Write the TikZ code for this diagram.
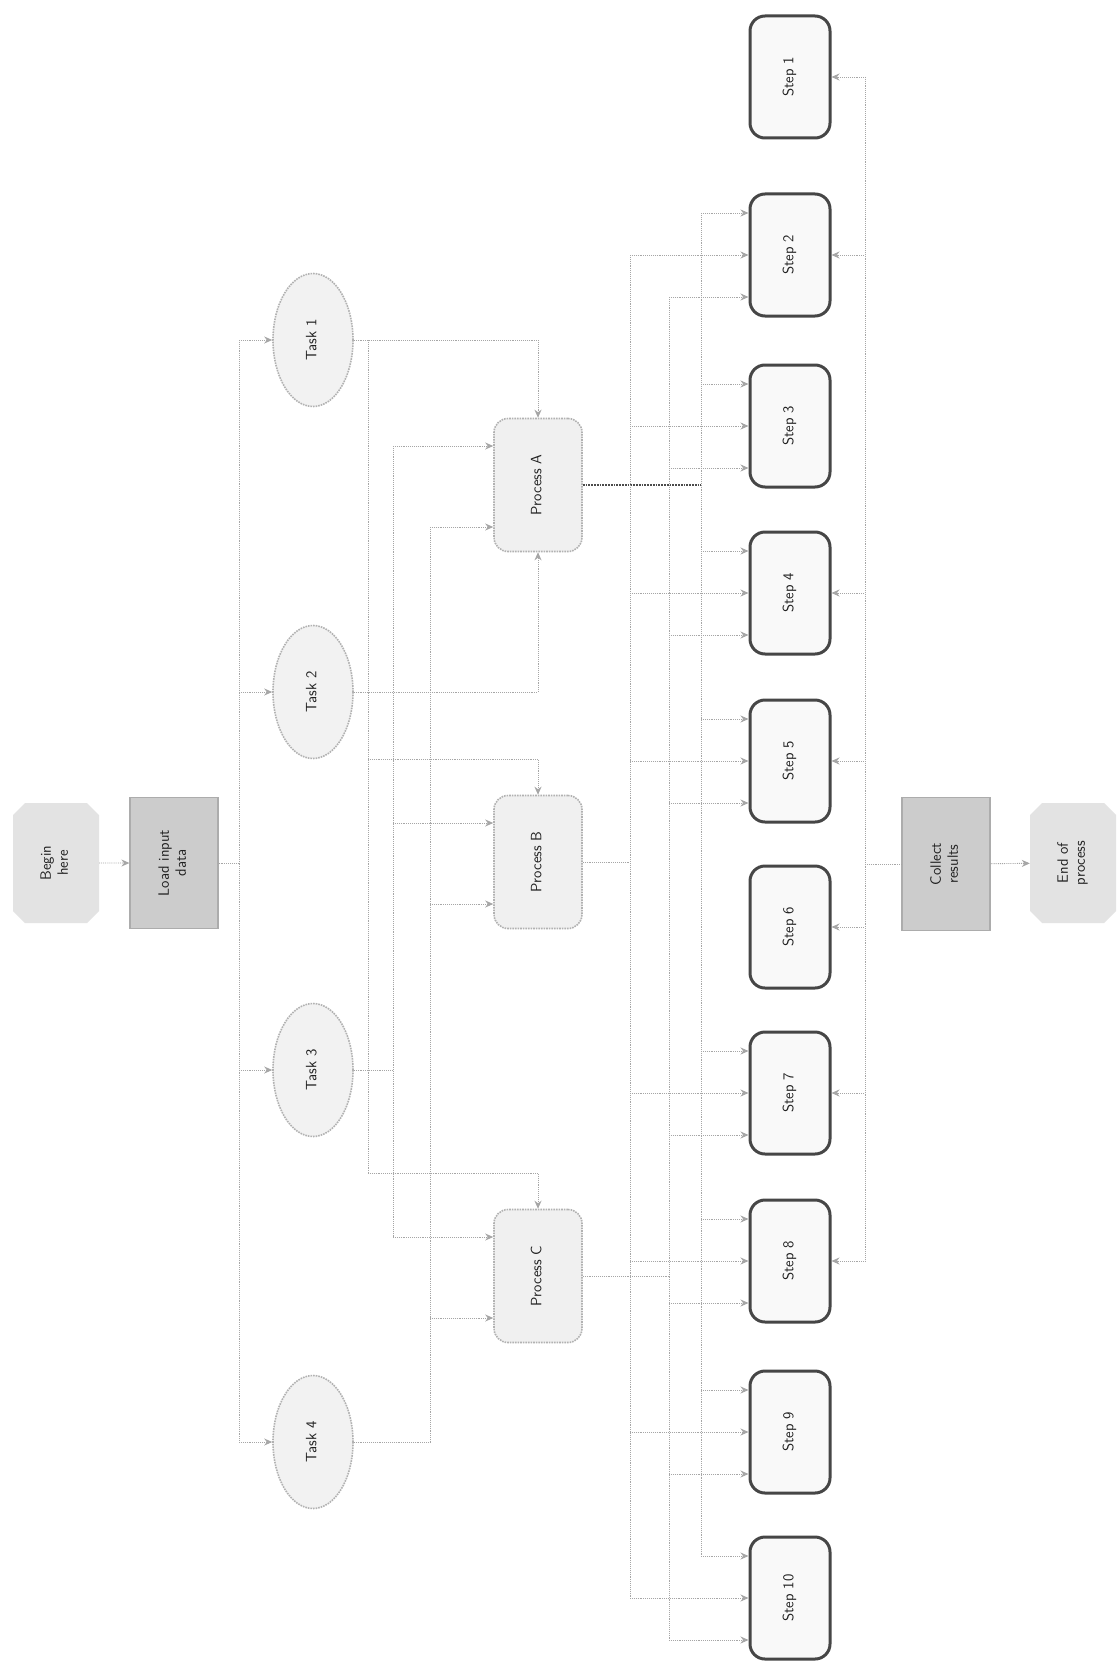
\documentclass[tikz,border=0pt]{standalone}
\usepackage{graphicx}
\usetikzlibrary{shapes.geometric,shapes.misc,arrows.meta}
\begin{document}
\begin{tikzpicture}[x=1pt,y=-1pt,
  conn/.style={draw=gray!70, densely dotted, line width=0.9pt},
  heavy/.style={draw=gray!60!black, densely dotted, line width=1.8pt},
  arr/.style={conn, -{Stealth[length=8pt,width=7pt]}},
  arrin/.style={conn, {Stealth[length=8pt,width=7pt]}-},
  txt/.style={font=\sffamily\fontsize{15}{17}\selectfont, text=gray!25!black, align=center},
  termbox/.style={chamfered rectangle, chamfered rectangle xsep=6pt, chamfered rectangle ysep=6pt, fill=gray!22, draw=none, minimum width=86pt, minimum height=120pt, inner sep=0pt},
  iobox/.style={rectangle, fill=gray!40, draw=gray!65, line width=1.2pt, minimum width=88pt, minimum height=131pt, inner sep=0pt},
  ellbox/.style={ellipse, fill=gray!10, draw=gray!60, line width=1.6pt, densely dotted, minimum width=80pt, minimum height=133pt, inner sep=0pt},
  midbox/.style={rectangle, rounded corners=14pt, fill=gray!12, draw=gray!60, line width=1.6pt, densely dotted, minimum width=88pt, minimum height=133pt, inner sep=0pt},
  stepbox/.style={rectangle, rounded corners=15pt, fill=gray!5, draw=gray!55!black, line width=3pt, minimum width=80pt, minimum height=122pt, inner sep=0pt}
]
\newcommand{\rt}[1]{\rotatebox{90}{\begin{tabular}{@{}c@{}}#1\end{tabular}}}
\path[use as bounding box, fill=white] (0,0) rectangle (1118,1664);

% nodes
\node[termbox, txt] (A) at (56,863) {\rt{Begin\\here}};
\node[iobox, txt] (B) at (174,863) {\rt{Load input\\data}};

\node[ellbox, txt] (e1) at (313,340) {\rt{Task 1}};
\node[ellbox, txt] (e2) at (313,692) {\rt{Task 2}};
\node[ellbox, txt] (e3) at (313,1070) {\rt{Task 3}};
\node[ellbox, txt] (e4) at (313,1442) {\rt{Task 4}};

\node[midbox, txt] (m1) at (538,485) {\rt{Process A}};
\node[midbox, txt] (m2) at (538,862) {\rt{Process B}};
\node[midbox, txt] (m3) at (538,1276) {\rt{Process C}};

\node[stepbox, txt] (r1) at (790,77) {\rt{Step 1}};
\node[stepbox, txt] (r2) at (790,255) {\rt{Step 2}};
\node[stepbox, txt] (r3) at (790,426) {\rt{Step 3}};
\node[stepbox, txt] (r4) at (790,593) {\rt{Step 4}};
\node[stepbox, txt] (r5) at (790,761) {\rt{Step 5}};
\node[stepbox, txt] (r6) at (790,927) {\rt{Step 6}};
\node[stepbox, txt] (r7) at (790,1093) {\rt{Step 7}};
\node[stepbox, txt] (r8) at (790,1261) {\rt{Step 8}};
\node[stepbox, txt] (r9) at (790,1432) {\rt{Step 9}};
\node[stepbox, txt] (r10) at (790,1598) {\rt{Step 10}};

\node[iobox, txt, minimum height=133pt] (C) at (946,864) {\rt{Collect\\results}};
\node[termbox, txt] (D) at (1073,863) {\rt{End of\\process}};

% left part
\draw[arr] (A) -- (B);
\coordinate (busT) at (239,340);
\coordinate (busB) at (239,1442);
\draw[conn] (B.east) -- (B.east -| busT);
\draw[conn] (busT) -- (busB);
\foreach \e in {e1,e2,e3,e4} { \draw[arr] (\e.west -| busT) -- (\e.west); }

% ellipses to middle boxes
\coordinate (v1) at (368,340);
\coordinate (v2) at (393,0);
\coordinate (v3) at (430,0);
\coordinate (k1) at (368,759);
\coordinate (k2) at (368,1173);
\draw[arr] (e1.east) -| (m1.north);
\draw[conn] (v1) -- (k2);
\draw[arr] (k1) -| (m2.north);
\draw[arr] (k2) -| (m3.north);
\draw[arr] (e2.east) -| (m1.south);

\foreach \m in {m1,m2,m3} {
  \coordinate (\m a) at ([yshift=39pt]\m.west);
  \coordinate (\m b) at ([yshift=-42pt]\m.west);
}
\draw[conn] (e3.east) -- (e3.east -| v2);
\draw[conn] (v2 |- m1a) -- (v2 |- m3a);
\draw[conn] (e4.east) -- (e4.east -| v3);
\draw[conn] (v3 |- m1b) -- (v3 |- e4.east);
\foreach \m in {m1,m2,m3} {
  \draw[arr] (v2 |- \m a) -- (\m a);
  \draw[arr] (v3 |- \m b) -- (\m b);
}

% middle boxes to step boxes
\coordinate (w1) at (701,0);
\coordinate (w2) at (630,0);
\coordinate (w3) at (669,0);
\foreach \r in {r2,r3,r4,r5,r7,r8,r9,r10} {
  \coordinate (\r t) at ([yshift=42pt]\r.west);
  \coordinate (\r c) at (\r.west);
  \coordinate (\r b) at ([yshift=-42pt]\r.west);
}
\draw[heavy] (m1.east) -- (m1.east -| w1);
\draw[conn] (w1 |- r2t) -- (w1 |- r10t);
\draw[conn] (m2.east) -- (m2.east -| w2);
\draw[conn] (w2 |- r2c) -- (w2 |- r10c);
\draw[conn] (m3.east) -- (m3.east -| w3);
\draw[conn] (w3 |- r2b) -- (w3 |- r10b);
\foreach \r in {r2,r3,r4,r5,r7,r8,r9,r10} {
  \draw[arr] (w1 |- \r t) -- (\r t);
  \draw[arr] (w2 |- \r c) -- (\r c);
  \draw[arr] (w3 |- \r b) -- (\r b);
}

% step boxes to collector
\coordinate (rb) at (865,0);
\draw[conn] (rb |- r1.east) -- (rb |- r8.east);
\foreach \r in {r1,r2,r4,r5,r6,r7,r8} { \draw[arrin] (\r.east) -- (\r.east -| rb); }
\draw[conn] (C.west -| rb) -- (C.west);
\draw[arr] (C) -- (D);
\end{tikzpicture}
\end{document}
